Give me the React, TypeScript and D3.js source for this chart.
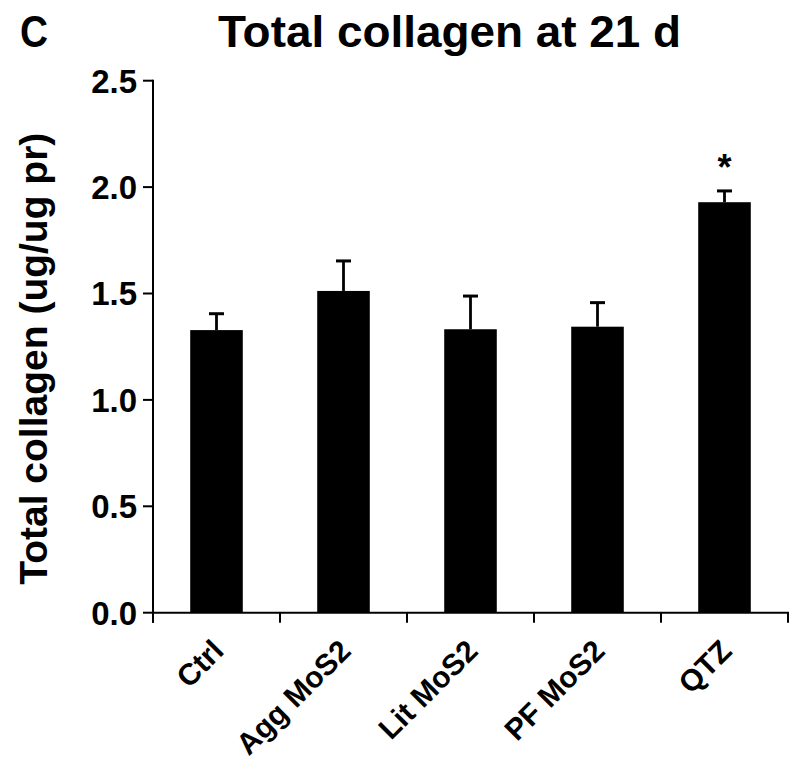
import React from "react";
import * as d3 from "d3";

const categories = ["Ctrl", "Agg MoS2", "Lit MoS2", "PF MoS2", "QTZ"];
const means = [1.328, 1.512, 1.332, 1.344, 1.929];
const errors = [0.077, 0.141, 0.156, 0.113, 0.053];
const significant = [false, false, false, false, true];
const yTicks = [0, 0.5, 1.0, 1.5, 2.0, 2.5];

const W = 800;
const H = 763;
const left = 153;
const right = 788;
const top = 80.7;
const bottom = 612.7;
const FONT = "'Liberation Sans', Arial, sans-serif";

export default function App() {
  const x = d3.scaleBand<string>().domain(categories).range([left, right]).paddingInner(0).paddingOuter(0);
  const y = d3.scaleLinear().domain([0, 2.5]).range([bottom, top]);
  const bw = x.bandwidth() * 0.414;
  const boundaries = [left, ...categories.map((c) => (x(c) as number) + x.bandwidth())];

  return (
    <svg width={W} height={H} style={{ position: "absolute", left: 0, top: 0, background: "#fff" }} fontFamily={FONT}>
      <rect x={0} y={0} width={W} height={H} fill="#fff" />
      <text x={20} y={47} fontSize={44} fontWeight="bold" textLength={28} lengthAdjust="spacingAndGlyphs">C</text>
      <text x={218} y={47} fontSize={44} fontWeight="bold" textLength={463} lengthAdjust="spacingAndGlyphs">
        Total collagen at 21 d
      </text>

      {/* bars */}
      {categories.map((c, i) => {
        const cx = (x(c) as number) + x.bandwidth() / 2;
        const yt = y(means[i]);
        const ye = y(means[i] + errors[i]);
        return (
          <g key={c}>
            <rect x={cx - bw / 2} y={yt} width={bw} height={bottom - yt} fill="#000" />
            <line x1={cx} x2={cx} y1={yt} y2={ye} stroke="#000" strokeWidth={2.8} />
            <line x1={cx - 7.5} x2={cx + 7.5} y1={ye} y2={ye} stroke="#000" strokeWidth={3} />
            {significant[i] && (
              <text x={cx} y={ye - 11} textAnchor="middle" fontSize={36} fontWeight="bold">*</text>
            )}
          </g>
        );
      })}

      {/* y axis */}
      <line x1={left} x2={left} y1={top - 1} y2={bottom + 10} stroke="#000" strokeWidth={2} />
      {yTicks.map((t) => (
        <g key={t}>
          <line x1={left - 10} x2={left} y1={y(t)} y2={y(t)} stroke="#000" strokeWidth={2} />
          <text x={137} y={y(t)} dy="0.36em" textAnchor="end" fontSize={33} fontWeight="bold">
            {t.toFixed(1)}
          </text>
        </g>
      ))}
      <text
        transform={`translate(47, ${(top + bottom) / 2 + 12}) rotate(-90)`}
        textAnchor="middle"
        fontSize={39}
        fontWeight="bold"
      >
        Total collagen (ug/ug pr)
      </text>

      {/* x axis */}
      <line x1={left - 1} x2={right + 1} y1={bottom} y2={bottom} stroke="#000" strokeWidth={2} />
      {boundaries.map((b, i) => (
        <line key={i} x1={b} x2={b} y1={bottom} y2={bottom + 10} stroke="#000" strokeWidth={2} />
      ))}
      {categories.map((c) => {
        const cx = (x(c) as number) + x.bandwidth() / 2;
        return (
          <text
            key={c}
            transform={`translate(${cx + 9}, ${bottom + 40}) rotate(-45)`}
            textAnchor="end"
            fontSize={30}
            fontWeight="bold"
          >
            {c}
          </text>
        );
      })}
    </svg>
  );
}
